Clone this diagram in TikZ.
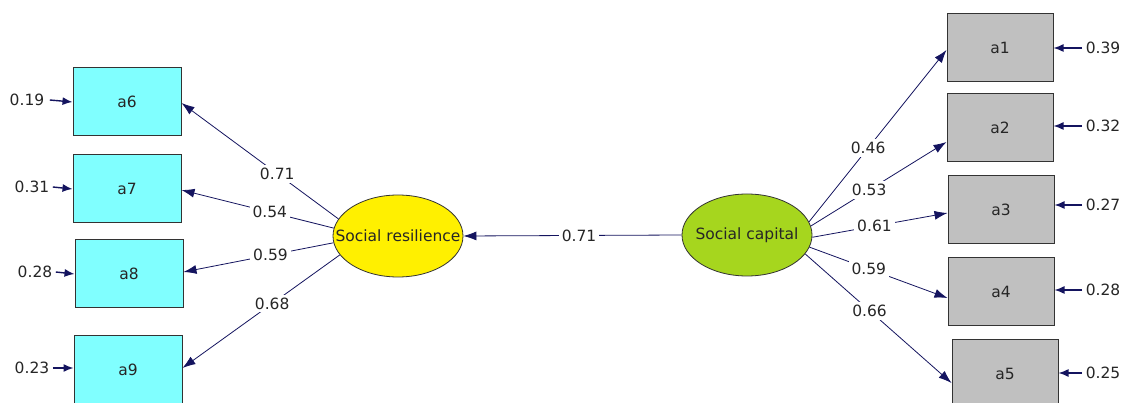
\documentclass[tikz,border=0pt]{standalone}
\usepackage{fontspec}
\setmainfont{DejaVu Sans}
\usetikzlibrary{arrows.meta,shapes.geometric}
\definecolor{navy}{RGB}{20,20,95}
\definecolor{cyanbox}{RGB}{128,255,255}
\definecolor{graybox}{RGB}{192,192,192}
\definecolor{yel}{RGB}{255,240,0}
\definecolor{lime}{RGB}{166,214,30}
\begin{document}
\begin{tikzpicture}[x=1pt,y=-1pt,
  every node/.style={font=\fontsize{15.5}{17}\selectfont, text=black!85},
  obs/.style={draw=black!80, line width=1pt, rectangle, minimum width=108pt, minimum height=68pt, inner sep=0pt},
  lat/.style={ellipse, draw=black!80, line width=0.8pt, minimum width=130pt, minimum height=82pt, inner sep=0pt},
  link/.style={draw=navy, line width=0.8pt, -{Latex[length=13pt,width=9pt]}},
  errlink/.style={draw=navy, line width=1.4pt, -{Latex[length=10pt,width=8pt]}},
  lbl/.style={fill=white, inner sep=3pt}
]
\clip (0,0) rectangle (1122,403);
\fill[white] (0,0) rectangle (1122,403);

% left observed
\node[obs, fill=cyanbox] (a6) at (127,102) {a6};
\node[obs, fill=cyanbox] (a7) at (127,189) {a7};
\node[obs, fill=cyanbox] (a8) at (129,274) {a8};
\node[obs, fill=cyanbox] (a9) at (128,370) {a9};

% right observed
\node[obs, fill=graybox, minimum width=106pt] (a1) at (1000,48) {a1};
\node[obs, fill=graybox, minimum width=106pt] (a2) at (1000,128) {a2};
\node[obs, fill=graybox, minimum width=106pt] (a3) at (1001,210) {a3};
\node[obs, fill=graybox, minimum width=106pt] (a4) at (1001,292) {a4};
\node[obs, fill=graybox, minimum width=106pt] (a5) at (1005,374) {a5};

% latent
\node[lat, fill=yel] (sr) at (398,236) {};
\node (srt) at (sr.center) {Social resilience};
\node[lat, fill=lime] (sc) at (747,235) {};
\node (sct) at (sc.center) {Social capital};

% structural path
\draw[link] (sc.west) -- node[lbl, pos=0.47] {0.71} (sr.east);

% left loadings
\draw[link] (sr.164) -- node[lbl, pos=0.39] {0.71} ([yshift=-1pt]a6.east);
\draw[link] (sr.173) -- node[lbl, pos=0.42] {0.54} ([yshift=-1pt]a7.east);
\draw[link] (sr.186) -- node[lbl, pos=0.42] {0.59} ([yshift=2pt]a8.east);
\draw[link] (sr.198) -- node[lbl, pos=0.43] {0.68} ([yshift=2pt]a9.east);

% right loadings
\draw[link] (sc.12) -- node[lbl, pos=0.43] {0.46} ([yshift=-2pt]a1.west);
\draw[link] (sc.8) -- node[lbl, pos=0.43] {0.53} ([yshift=-14pt]a2.west);
\draw[link] (sc.358) -- node[lbl, pos=0.46] {0.61} ([yshift=-3pt]a3.west);
\draw[link] (sc.349) -- node[lbl, pos=0.43] {0.59} ([yshift=-6pt]a4.west);
\draw[link] (sc.342) -- node[lbl, pos=0.44] {0.66} ([yshift=-9pt]a5.west);

% left errors
\node (e6) at (27,100) {0.19};
\node (e7) at (32,187) {0.31};
\node (e8) at (35,272) {0.28};
\node (e9) at (32,368) {0.23};
\draw[errlink] ([xshift=2pt]e6.east) -- (a6.west);
\draw[errlink] (e7.east) -- (a7.west);
\draw[errlink] (e8.east) -- (a8.west);
\draw[errlink] (e9.east) -- ([yshift=2pt]a9.west);

% right errors
\node (e1) at (1103,48) {0.39};
\node (e2) at (1103,126) {0.32};
\node (e3) at (1103,205) {0.27};
\node (e4) at (1103,290) {0.28};
\node (e5) at (1103,373) {0.25};
\draw[errlink] (e1.west) -- (a1.east);
\draw[errlink] (e2.west) -- ([yshift=2pt]a2.east);
\draw[errlink] (e3.west) -- ([yshift=5pt]a3.east);
\draw[errlink] (e4.west) -- ([yshift=2pt]a4.east);
\draw[errlink] (e5.west) -- ([yshift=1pt]a5.east);
\end{tikzpicture}
\end{document}
